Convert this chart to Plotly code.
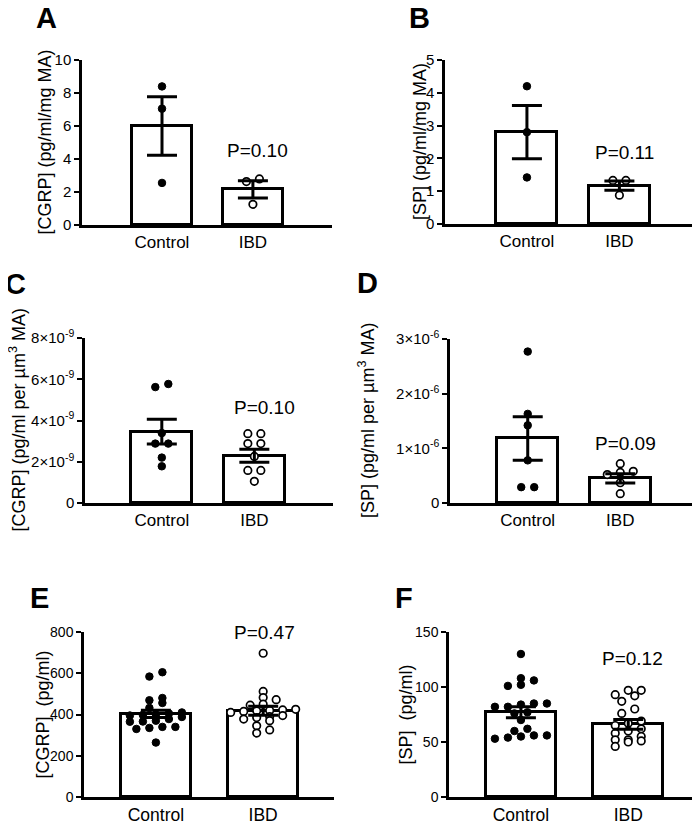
import plotly.graph_objects as go

# the page body keeps an 8px margin on the top and left
W, H = 700, 824
PAD = 8
FW, FH = W - PAD, H - PAD
groups = ["Control", "IBD"]

# panel A - CGRP per mg MA
a_ctrl = [8.4, 7.05, 2.55]
a_ibd = [2.79, 2.63, 1.25]
a_mean = [6.0, 2.16]
a_sem = [1.78, 0.52]

# panel B - SP per mg MA
b_ctrl = [4.2, 2.8, 1.42]
b_ibd = [1.33, 1.33, 0.88]
b_mean = [2.8, 1.17]
b_sem = [0.81, 0.14]

# panel C - CGRP per um3 MA
c_ctrl = [5.77e-9, 5.62e-9, 3.39e-9, 2.88e-9, 2.88e-9, 2.2e-9, 1.78e-9]
c_ibd = [3.36e-9, 3.36e-9, 2.88e-9, 2.88e-9, 2.26e-9, 1.58e-9, 1.58e-9, 1.05e-9]
c_mean = [3.46e-9, 2.29e-9]
c_sem = [0.6e-9, 0.32e-9]

# panel D - SP per um3 MA
d_ctrl = [2.77e-6, 1.63e-6, 1.42e-6, 0.78e-6, 0.29e-6, 0.29e-6]
d_ibd = [0.72e-6, 0.58e-6, 0.56e-6, 0.52e-6, 0.37e-6, 0.17e-6]
d_mean = [1.18e-6, 0.45e-6]
d_sem = [0.4e-6, 0.085e-6]

# panel E - CGRP pg/ml
e_ctrl = [605, 584, 480, 469, 456, 432, 410, 405, 400, 398, 395, 388, 378,
          370, 366, 365, 340, 340, 335, 330, 264]
e_ibd = [697, 512, 482, 472, 450, 445, 425, 422, 420, 418, 415, 410, 395,
         390, 385, 378, 370, 345, 325, 310]
e_mean = [403, 418]
e_sem = [18, 22]

# panel F - SP pg/ml
f_ctrl = [130, 108, 106, 102, 101, 85, 85, 84, 82, 82, 77, 76, 70, 62, 60,
          56, 56, 55, 54, 53]
f_ibd = [97, 97, 93, 92, 87, 80, 76, 69, 67, 65, 62, 60, 58, 55, 52, 52, 51,
         50, 46]
f_mean = [77, 66]
f_sem = [5, 4.5]

p_texts = ["P=0.10", "P=0.11", "P=0.10", "P=0.09", "P=0.47", "P=0.12"]
letters = ["A", "B", "C", "D", "E", "F"]

sci9 = ["0", "2×10<sup>-9</sup>", "4×10<sup>-9</sup>", "6×10<sup>-9</sup>", "8×10<sup>-9</sup>"]
sci6 = ["0", "1×10<sup>-6</sup>", "2×10<sup>-6</sup>", "3×10<sup>-6</sup>"]

FONT = "Liberation Sans, Arial, sans-serif"


def px(x):
    return min(1.0, max(0.0, (x - PAD) / FW))


def py(y):
    return min(1.0, max(0.0, 1 - (y - PAD) / FH))


# geometry in window pixels: x0, x1, ytop, ybot
panels = [
    dict(ctrl=a_ctrl, ibd=a_ibd, mean=a_mean, sem=a_sem, box=(82, 332, 60, 225),
         xr=[-0.88, 1.87], yr=[0, 10], tv=[0, 2, 4, 6, 8, 10], tt=None,
         ytitle="[CGRP] (pg/ml/mg MA)", tx=45, lab=(46, 18), p=(257, 150),
         tf=15, cf=17, bw=0.66),
    dict(ctrl=b_ctrl, ibd=b_ibd, mean=b_mean, sem=b_sem, box=(445, 698, 60, 224),
         xr=[-0.886, 1.85], yr=[0, 5], tv=[0, 1, 2, 3, 4, 5], tt=None,
         ytitle="[SP] (pg/ml/mg MA)", tx=420, lab=(419, 18), p=(624, 152),
         tf=15, cf=17, bw=0.66),
    dict(ctrl=c_ctrl, ibd=c_ibd, mean=c_mean, sem=c_sem, box=(85, 333, 338, 503),
         xr=[-0.83, 1.85], yr=[0, 8e-9], tv=[0, 2e-9, 4e-9, 6e-9, 8e-9], tt=sci9,
         ytitle="[CGRP] (pg/ml per µm<sup>3</sup> MA)", tx=18, lab=(15, 284),
         p=(264, 407), tf=15, cf=17, bw=0.66),
    dict(ctrl=d_ctrl, ibd=d_ibd, mean=d_mean, sem=d_sem, box=(450, 698, 339, 503),
         xr=[-0.84, 1.84], yr=[0, 3e-6], tv=[0, 1e-6, 2e-6, 3e-6], tt=sci6,
         ytitle="[SP] (pg/ml per µm<sup>3</sup> MA)", tx=366, lab=(367, 283),
         p=(625, 443), tf=15, cf=17, bw=0.66),
    dict(ctrl=e_ctrl, ibd=e_ibd, mean=e_mean, sem=e_sem, box=(84, 334, 632, 797),
         xr=[-0.67, 1.66], yr=[0, 800], tv=[0, 200, 400, 600, 800], tt=None,
         ytitle="[CGRP]  (pg/ml)", tx=42, lab=(39, 598), p=(264, 632),
         tf=14, cf=17.5, bw=0.65),
    dict(ctrl=f_ctrl, ibd=f_ibd, mean=f_mean, sem=f_sem, box=(449, 698, 632, 797),
         xr=[-0.67, 1.65], yr=[0, 150], tv=[0, 50, 100, 150], tt=None,
         ytitle="[SP]  (pg/ml)", tx=405, lab=(404, 598), p=(632, 658),
         tf=14, cf=17.5, bw=0.65),
]


def swarm(values, ypu, xpu, row_px=6.0, step_px=13.0):
    # simple row based scatter like the Prism layout
    order = sorted(range(len(values)), key=lambda i: values[i])
    rows = []
    for i in order:
        if rows and (values[i] - values[rows[-1][0]]) * ypu < row_px:
            rows[-1].append(i)
        else:
            rows.append([i])
    offs = [0.0] * len(values)
    for r in rows:
        n = len(r)
        for k, i in enumerate(r):
            offs[i] = (k - (n - 1) / 2) * step_px / xpu
    return offs


fig = go.Figure()
annotations = []
layout_axes = {}

for n, p in enumerate(panels):
    idx = "" if n == 0 else str(n + 1)
    xa, ya = "x" + idx, "y" + idx
    x0, x1, yt, yb = p["box"]
    xpu = (x1 - x0) / (p["xr"][1] - p["xr"][0])
    ypu = (yb - yt) / (p["yr"][1] - p["yr"][0])

    fig.add_trace(go.Bar(
        x=[0, 1], y=p["mean"], width=p["bw"], xaxis=xa, yaxis=ya,
        marker=dict(color="white", line=dict(color="black", width=3)),
    ))

    off_c = swarm(p["ctrl"], ypu, xpu)
    off_i = swarm(p["ibd"], ypu, xpu)
    fig.add_trace(go.Scatter(
        x=[0 + o for o in off_c], y=p["ctrl"], mode="markers", xaxis=xa, yaxis=ya,
        marker=dict(size=7.5, color="black", line=dict(color="black", width=1)),
        cliponaxis=False,
    ))
    fig.add_trace(go.Scatter(
        x=[1 + o for o in off_i], y=p["ibd"], mode="markers", xaxis=xa, yaxis=ya,
        marker=dict(size=7.5, color="white", line=dict(color="black", width=1.7)),
        cliponaxis=False,
    ))
    fig.add_trace(go.Scatter(
        x=[0, 1], y=p["mean"], mode="markers", xaxis=xa, yaxis=ya,
        marker=dict(size=1, color="rgba(0,0,0,0)"),
        error_y=dict(type="data", array=p["sem"], color="black", thickness=3, width=15),
    ))

    layout_axes["xaxis" + idx] = dict(
        domain=[px(x0), px(x1)], range=p["xr"], anchor=ya, automargin=False,
        showline=True, linecolor="black", linewidth=2.5, ticks="",
        tickvals=[0, 1], ticktext=groups, showgrid=False, zeroline=False,
        tickfont=dict(family=FONT, size=p["cf"], color="black"),
    )
    layout_axes["yaxis" + idx] = dict(
        domain=[py(yb), py(yt)], range=p["yr"], anchor=xa, automargin=False,
        showline=True, linecolor="black", linewidth=2.5, ticks="outside",
        ticklen=5, tickwidth=2, tickcolor="black", tickvals=p["tv"],
        ticktext=p["tt"] if p["tt"] else [str(v) for v in p["tv"]],
        showgrid=False, zeroline=False,
        tickfont=dict(family=FONT, size=p["tf"], color="black"),
    )

    annotations.append(dict(
        x=px(p["tx"]), y=py((yt + yb) / 2), xref="paper", yref="paper",
        text=p["ytitle"], textangle=-90, showarrow=False,
        font=dict(family=FONT, size=18, color="black"),
        xanchor="center", yanchor="middle",
    ))
    annotations.append(dict(
        x=px(p["lab"][0]), y=py(p["lab"][1]), xref="paper", yref="paper",
        text="<b>" + letters[n] + "</b>", showarrow=False,
        font=dict(family=FONT, size=29, color="black"),
        xanchor="center", yanchor="middle",
    ))
    annotations.append(dict(
        x=px(p["p"][0]), y=py(p["p"][1]), xref="paper", yref="paper",
        text=p_texts[n], showarrow=False,
        font=dict(family=FONT, size=19, color="black"),
        xanchor="center", yanchor="middle",
    ))

fig.update_layout(
    width=FW, height=FH,
    margin=dict(l=0, r=0, t=0, b=0, autoexpand=False),
    paper_bgcolor="white", plot_bgcolor="white",
    showlegend=False, bargap=0,
    annotations=annotations,
    font=dict(family=FONT, color="black"),
    **layout_axes,
)

fig.write_html("out.html")
